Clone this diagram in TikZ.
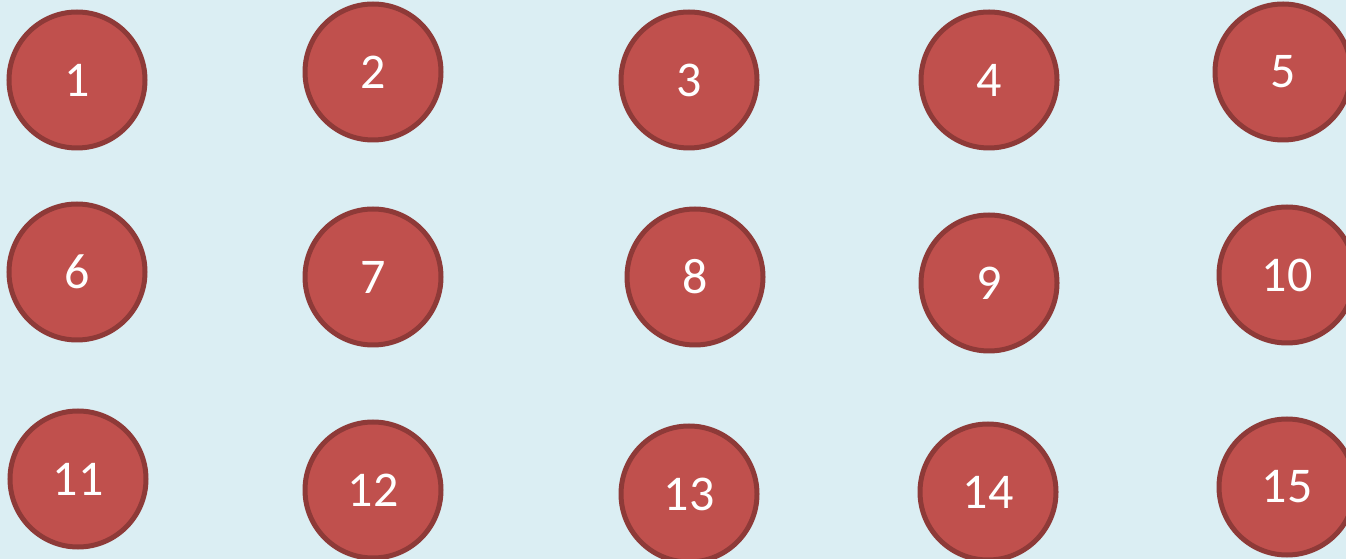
\documentclass[tikz,border=0pt]{standalone}
\usepackage{fontspec}
\setmainfont{Carlito}
\definecolor{bgblue}{HTML}{DBEEF3}
\definecolor{ballred}{HTML}{C0504D}
\definecolor{ballrim}{HTML}{8E3A38}
\tikzset{
  ball/.style={circle, fill=ballred, draw=ballrim, line width=3.75pt,
    minimum size=102pt, inner sep=0pt, text=white,
    font=\fontsize{37.5}{40}\selectfont}
}
\begin{document}
\begin{tikzpicture}[x=0.75pt, y=-0.75pt]
  \clip (0, 0) rectangle (1346, 559);
  \fill[bgblue] (0, 0) rectangle (1346, 559);
  \foreach \n/\px/\py in {1/77/80, 2/373/72, 3/689/80, 4/989/80, 5/1283/72,
      6/77/272, 7/373/277, 8/695/277, 9/989/283, 10/1287/275,
      11/78/479, 12/373/490, 13/689/494, 14/988/492, 15/1287/487} {
    \node[ball] (c\n) at (\px, \py) {\n};
  }
\end{tikzpicture}
\end{document}
